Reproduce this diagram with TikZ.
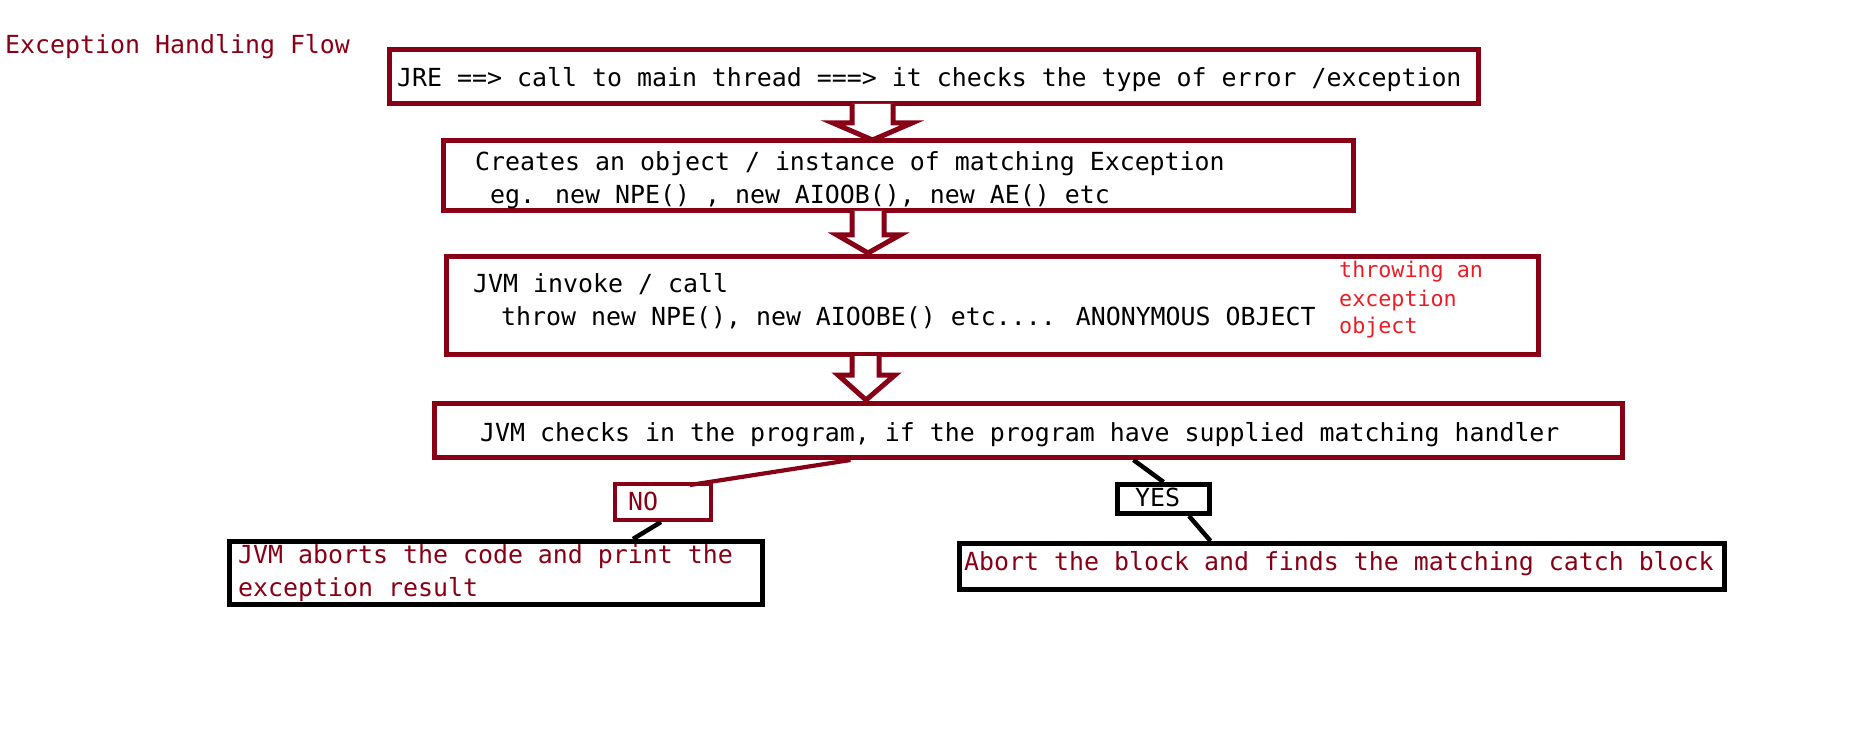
\documentclass[tikz,border=0pt]{standalone}
\usepackage{fontspec}
\newfontfamily\monof{DejaVu Sans Mono}
\usetikzlibrary{calc}
\definecolor{pdred}{RGB}{136,0,21}
\definecolor{pred}{RGB}{237,28,36}
\tikzset{
  box/.style={draw=pdred, line width=5pt, minimum width=#1, inner sep=0pt},
  bbox/.style={draw=black, line width=5pt, inner sep=0pt},
  txt/.style={anchor=base west, inner sep=0pt, font=\monof\fontsize{24.9}{33}\selectfont},
  small/.style={anchor=base west, inner sep=0pt, text=pred, font=\monof\fontsize{21.7}{28}\selectfont},
  blockarr/.style={draw=pdred, line width=5pt, line join=miter, fill=white},
  redline/.style={draw=pdred, line width=4.2pt},
  blkline/.style={draw=black, line width=4.5pt},
}
\begin{document}
\begin{tikzpicture}[x=1pt,y=-1pt]
\useasboundingbox (0,0) rectangle (1852,743);
% boxes
\node[box=1089pt, minimum height=54pt] (b1) at (934,76.5) {};
\node[box=910pt, minimum height=70pt] (b2) at (898.5,175.5) {};
\node[box=1092pt, minimum height=98pt] (b3) at (992.5,305.5) {};
\node[box=1188pt, minimum height=54pt] (b4) at (1028.5,430.5) {};
\node[box=96pt, minimum height=36pt, line width=4pt] (no) at (663,502) {};
\node[bbox, minimum width=92pt, minimum height=29pt] (yes) at (1163.5,499) {};
\node[bbox, minimum width=533pt, minimum height=63pt] (left) at (496,573) {};
\node[bbox, minimum width=765pt, minimum height=46pt] (right) at (1342,566.5) {};
% block arrows
\draw[blockarr] (852,104) -- (852,123) -- (833,123) -- (872.5,140) -- (912,123) -- (893,123) -- (893,104);
\draw[blockarr] (852,211) -- (852,235) -- (837,235) -- (868,253) -- (900,235) -- (884,235) -- (884,211);
\draw[blockarr] (852,356) -- (852,375) -- (838,375) -- (866,400) -- (895,375) -- (879,375) -- (879,356);
% texts
\node[txt, text=pdred] (title) at (5,54) {Exception Handling Flow};
\node[txt] (t1) at (397,87) {JRE ==> call to main thread ===> it checks the type of error /exception};
\node[txt] (t2a) at (475,171) {Creates an object / instance of matching Exception};
\node[txt] (t2b) at (490,204) {eg. new NPE() , new AIOOB(), new AE() etc};
\node[txt] (t3a) at (473,292) {JVM invoke / call};
\node[txt] (t3b) at (501,325) {throw new NPE(), new AIOOBE() etc.... ANONYMOUS OBJECT};
\node[small] (r1) at (1339,278) {throwing an};
\node[small] (r2) at (1339,306) {exception};
\node[small] (r3) at (1339,333) {object};
\node[txt] (t4) at (480,441) {JVM checks in the program, if the program have supplied matching handler};
\node[txt, text=pdred] (tno) at (628,510) {NO};
\node[txt] (tyes) at (1135,506) {YES};
\node[txt, text=pdred] (tl1) at (238,563) {JVM aborts the code and print the};
\node[txt, text=pdred] (tl2) at (238,596) {exception result};
\node[txt, text=pdred] (tr) at (964,570) {Abort the block and finds the matching catch block};
% connectors
\draw[redline] ([xshift=418.5pt]b4.south west) -- ([xshift=-23pt,yshift=-3pt]no.north east);
\draw[blkline] ([xshift=-2pt]no.south) -- ([xshift=137pt]left.north);
\draw[blkline] ([xshift=701.5pt]b4.south west) -- (yes.north);
\draw[blkline] ([xshift=25.5pt]yes.south) -- ([xshift=253.5pt]right.north west);
\end{tikzpicture}
\end{document}
